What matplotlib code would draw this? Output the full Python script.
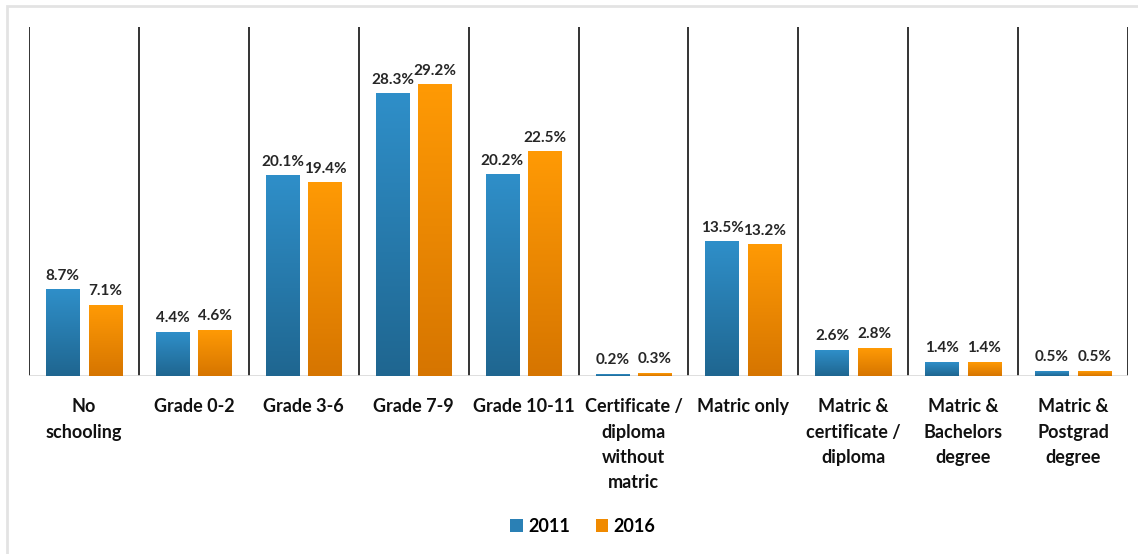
import matplotlib
matplotlib.use("Agg")
import matplotlib.pyplot as plt
import numpy as np
from matplotlib.colors import LinearSegmentedColormap
from matplotlib.patches import Rectangle, Patch

categories = ["No\nschooling", "Grade 0-2", "Grade 3-6", "Grade 7-9", "Grade 10-11",
              "Certificate /\ndiploma\nwithout\nmatric", "Matric only",
              "Matric &\ncertificate /\ndiploma", "Matric &\nBachelors\ndegree",
              "Matric &\nPostgrad\ndegree"]
values_2011 = [8.7, 4.4, 20.1, 28.3, 20.2, 0.2, 13.5, 2.6, 1.4, 0.5]
values_2016 = [7.1, 4.6, 19.4, 29.2, 22.5, 0.3, 13.2, 2.8, 1.4, 0.5]
series_names = ["2011", "2016"]

FONT = "Lato"
W, H = 1138, 554
fig = plt.figure(figsize=(W / 100, H / 100), dpi=100)
ax = fig.add_axes([29 / W, (H - 376) / H, 1099 / W, 349 / H])

blue_cmap = LinearSegmentedColormap.from_list("b", ["#1f6690", "#2f8fc9"])
orange_cmap = LinearSegmentedColormap.from_list("o", ["#d67500", "#ff9a05"])
grad = np.linspace(0, 1, 256).reshape(-1, 1)

x = np.arange(len(categories))
bw = 0.303
off = 0.193
for vals, cmap, sign in [(values_2011, blue_cmap, -1), (values_2016, orange_cmap, 1)]:
    for xi, v in zip(x, vals):
        cx = xi + sign * off
        ax.imshow(grad, extent=[cx - bw / 2, cx + bw / 2, 0, v], origin="lower",
                  aspect="auto", cmap=cmap, zorder=2, interpolation="bilinear")
        ax.annotate(f"{v:.1f}%", (cx, v), xytext=(0, 7), textcoords="offset points",
                    ha="center", va="baseline", fontsize=11, fontweight="bold",
                    family=FONT, color="#262626", zorder=3)

ax.set_xlim(-0.5, len(categories) - 0.5)
ax.set_ylim(0, 35)
for s in ax.spines.values():
    s.set_visible(False)
ax.set_yticks([])
ax.set_xticks(x)
ax.set_xticklabels(categories, fontsize=13, fontweight="bold", family=FONT,
                   color="#111111", linespacing=1.6)
ax.tick_params(axis="x", length=0, pad=16)
for b in np.arange(-0.5, len(categories), 1.0):
    ax.axvline(b, color="#111111", lw=1.2, zorder=1)
ax.axhline(0, color="#d9d9d9", lw=1.2, zorder=1)

handles = [Patch(facecolor="#2a80b5"), Patch(facecolor="#f08a00")]
fig.legend(handles, series_names, loc="center", bbox_to_anchor=(583 / W, 28 / H),
           ncol=2, frameon=False, handlelength=0.7, handleheight=0.7,
           handletextpad=0.3, columnspacing=1.4,
           prop={"family": FONT, "weight": "bold", "size": 13})

fig.patches.append(Rectangle((6.5 / W, -0.1), 1.2, (H - 6.5) / H + 0.1,
                             transform=fig.transFigure, fill=False,
                             edgecolor="#e3e3e3", lw=2))

fig.savefig("out.png", dpi=100)
